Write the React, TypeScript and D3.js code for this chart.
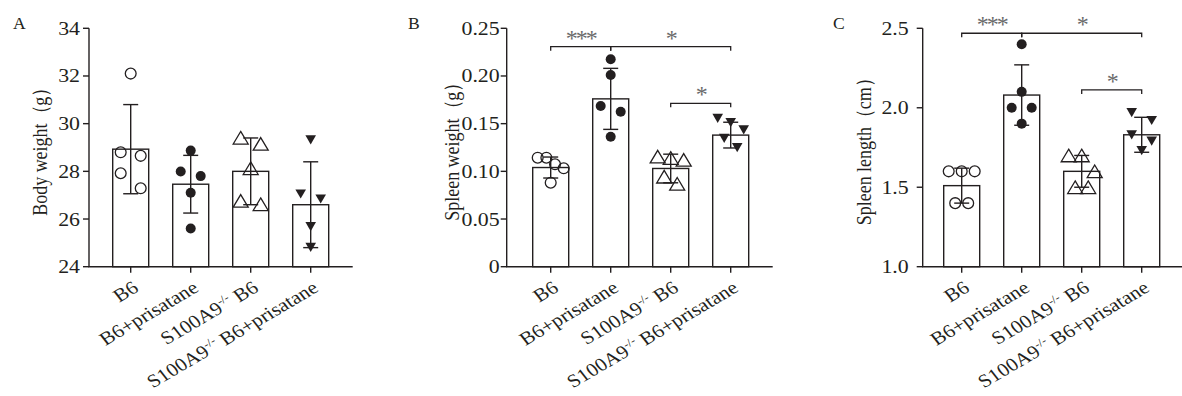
import React from 'react';
import * as d3 from 'd3';

// group labels (x axis)
const groups = ['B6', 'B6+prisatane', 'S100A9-/- B6', 'S100A9-/- B6+prisatane'];

// A: body weight (g), individual mice per group
const bodyWeight = [
  [32.1, 28.8, 28.65, 27.92, 27.29],
  [28.87, 27.99, 27.8, 27.1, 25.6],
  [29.41, 29.15, 28.13, 26.76, 26.62],
  [29.32, 27.05, 26.84, 25.68, 24.81],
];
const bodyWeightMean = [28.93, 27.46, 28.0, 26.6];
const bodyWeightSd = [1.87, 1.21, 1.4, 1.8];
const bodyWeightTicks = [24, 26, 28, 30, 32, 34];
const bodyWeightTickLabels = ['24', '26', '28', '30', '32', '34'];

// B: spleen weight (g)
const spleenWeight = [
  [0.1143, 0.1143, 0.1074, 0.1032, 0.0881],
  [0.2175, 0.201, 0.1685, 0.1625, 0.1363],
  [0.1154, 0.114, 0.112, 0.0944, 0.0869],
  [0.1556, 0.151, 0.1434, 0.1346, 0.1248],
];
const spleenWeightMean = [0.104, 0.176, 0.103, 0.138];
const spleenWeightSd = [0.011, 0.032, 0.015, 0.0135];
const spleenWeightTicks = [0, 0.05, 0.1, 0.15, 0.2, 0.25];
const spleenWeightTickLabels = ['0', '0.05', '0.10', '0.15', '0.20', '0.25'];

// C: spleen length (cm)
const spleenLength = [
  [1.6, 1.6, 1.6, 1.4, 1.4],
  [2.4, 2.1, 2.0, 2.0, 1.9],
  [1.7, 1.7, 1.6, 1.5, 1.5],
  [1.97, 1.92, 1.83, 1.79, 1.73],
];
const spleenLengthMean = [1.51, 2.08, 1.6, 1.83];
const spleenLengthSd = [0.11, 0.19, 0.1, 0.11];
const spleenLengthTicks = [1.0, 1.5, 2.0, 2.5];
const spleenLengthTickLabels = ['1.0', '1.5', '2.0', '2.5'];

// significance comparisons: [group a, group b, height in data units, label]
const spleenWeightStats: [number, number, number, string][] = [
  [0, 1, 0.2307, '***'],
  [1, 3, 0.2307, '*'],
  [2, 3, 0.1713, '*'],
];
const spleenLengthStats: [number, number, number, string][] = [
  [0, 1, 2.469, '***'],
  [1, 3, 2.469, '*'],
  [2, 3, 2.112, '*'],
];

const TOP = 28.3;
const BOTTOM = 266.7;
const FONT = '"Liberation Serif", "Times New Roman", serif';
const INK = '#231f20';

const markers = ['circleOpen', 'circleFilled', 'triangleOpen', 'triangleDown'];
const rowGap: Record<string, number> = { circleOpen: 16, circleFilled: 14, triangleOpen: 19, triangleDown: 14 };

const panels = [
  {
    letter: 'A', title: 'Body weight（g）', values: bodyWeight, means: bodyWeightMean, sds: bodyWeightSd,
    domain: [24, 34], ticks: bodyWeightTicks, tickLabels: bodyWeightTickLabels, stats: [] as [number, number, number, string][],
    axisX: 89, firstCenter: 130.7, letterX: 13, titleOffset: 49, labelGap: 9,
  },
  {
    letter: 'B', title: 'Spleen weight（g）', values: spleenWeight, means: spleenWeightMean, sds: spleenWeightSd,
    domain: [0, 0.25], ticks: spleenWeightTicks, tickLabels: spleenWeightTickLabels, stats: spleenWeightStats,
    axisX: 506.7, firstCenter: 550.7, letterX: 408, titleOffset: 55, labelGap: 7,
  },
  {
    letter: 'C', title: 'Spleen length（cm）', values: spleenLength, means: spleenLengthMean, sds: spleenLengthSd,
    domain: [1.0, 2.5], ticks: spleenLengthTicks, tickLabels: spleenLengthTickLabels, stats: spleenLengthStats,
    axisX: 922.7, firstCenter: 961.7, letterX: 833, titleOffset: 59, labelGap: 14,
  },
];

// Prism-like scatter: points close in y share a row and spread sideways
function swarm(vals: number[], y: d3.ScaleLinear<number, number>, gap: number) {
  const pts = vals.map(v => ({ v, py: y(v), dx: 0 })).sort((a, b) => a.py - b.py);
  const rows: typeof pts[] = [];
  pts.forEach(p => {
    const row = rows[rows.length - 1];
    if (row && p.py - row[0].py < gap) row.push(p);
    else rows.push([p]);
  });
  const maxRow = d3.max(rows, r => r.length) || 1;
  const step = maxRow <= 2 ? 20 : 26 / (maxRow - 1);
  rows.forEach(row => row.forEach((p, i) => { p.dx = (i - (row.length - 1) / 2) * step; }));
  return pts;
}

function Marker({ type, x, y }: { type: string; x: number; y: number }) {
  if (type === 'circleOpen') return <circle cx={x} cy={y} r={5.4} fill="none" stroke={INK} strokeWidth={1.3} />;
  if (type === 'circleFilled') return <circle cx={x} cy={y} r={5} fill={INK} />;
  if (type === 'triangleOpen')
    return <path d={`M${x},${y - 6.3}L${x + 7.5},${y + 6.3}L${x - 7.5},${y + 6.3}Z`} fill="none" stroke={INK} strokeWidth={1.3} />;
  return <path d={`M${x - 5.3},${y - 4.6}L${x + 5.3},${y - 4.6}L${x},${y + 4.6}Z`} fill={INK} />;
}

function GroupLabel({ name, x, y }: { name: string; x: number; y: number }) {
  const tf = `translate(${x},${y}) scale(1.15,1) rotate(-34)`;
  if (name.startsWith('S100A9-/-')) {
    const rest = name.slice('S100A9-/-'.length);
    return (
      <text transform={tf} textAnchor="end" fontFamily={FONT} fontSize={18.5} fill={INK}>
        S100A9<tspan fontSize={11.5} dy={-7}>-/-</tspan><tspan dy={7}>{rest}</tspan>
      </text>
    );
  }
  return <text transform={tf} textAnchor="end" fontFamily={FONT} fontSize={18.5} fill={INK}>{name}</text>;
}

function Panel({ p }: { p: typeof panels[number] }) {
  const y = d3.scaleLinear().domain(p.domain).range([BOTTOM, TOP]);
  const start = p.firstCenter - 42;
  const x = d3.scaleBand<string>().domain(groups).range([start, start + 264]).paddingInner(0.4).paddingOuter(0.4);
  const cx = (i: number) => (x(groups[i]) as number) + x.bandwidth() / 2;
  const midY = (TOP + BOTTOM) / 2;
  return (
    <g>
      <text transform={`translate(${p.letterX},28.5) scale(1.1,1)`} fontFamily={FONT} fontSize={16} fill={INK}>{p.letter}</text>
      <text transform={`translate(${p.axisX - p.titleOffset},${midY}) scale(1.15,1) rotate(-90)`} textAnchor="middle"
        dominantBaseline="central" fontFamily={FONT} fontSize={18} fill={INK}>{p.title}</text>

      {/* bars */}
      {groups.map((g, i) => (
        <rect key={g} x={x(g)} y={y(p.means[i])} width={x.bandwidth()} height={BOTTOM - y(p.means[i])}
          fill="#fff" stroke={INK} strokeWidth={1.4} />
      ))}
      {/* error bars */}
      {groups.map((g, i) => {
        const c = cx(i);
        const hi = y(p.means[i] + p.sds[i]);
        const lo = y(p.means[i] - p.sds[i]);
        return (
          <g key={g} stroke={INK} strokeWidth={1.4}>
            <line x1={c} x2={c} y1={hi} y2={lo} />
            <line x1={c - 7.5} x2={c + 7.5} y1={hi} y2={hi} />
            <line x1={c - 7.5} x2={c + 7.5} y1={lo} y2={lo} />
          </g>
        );
      })}
      {/* points */}
      {groups.map((g, i) => swarm(p.values[i], y, rowGap[markers[i]]).map((pt, j) => (
        <Marker key={g + j} type={markers[i]} x={cx(i) + pt.dx} y={pt.py} />
      )))}

      {/* axes */}
      <line x1={p.axisX} x2={p.axisX} y1={TOP} y2={BOTTOM} stroke={INK} strokeWidth={1.4} />
      <line x1={p.axisX - 0.7} x2={x.range()[1]} y1={BOTTOM} y2={BOTTOM} stroke={INK} strokeWidth={1.4} />
      {p.ticks.map((t, i) => (
        <g key={t}>
          <line x1={p.axisX - 6} x2={p.axisX} y1={y(t)} y2={y(t)} stroke={INK} strokeWidth={1.4} />
          <text transform={`translate(${p.axisX - p.labelGap},${y(t)}) scale(1.15,1)`} textAnchor="end"
            dominantBaseline="central" fontFamily={FONT} fontSize={19} fill={INK}>{p.tickLabels[i]}</text>
        </g>
      ))}
      {groups.map((g, i) => (
        <g key={g}>
          <line x1={cx(i)} x2={cx(i)} y1={BOTTOM} y2={BOTTOM + 6} stroke={INK} strokeWidth={1.4} />
          <GroupLabel name={g} x={cx(i) + 9} y={BOTTOM + 24} />
        </g>
      ))}

      {/* significance brackets */}
      {p.stats.map(([a, b, h, label], k) => {
        const yy = y(h);
        return (
          <g key={k}>
            <path d={`M${cx(a)},${yy + 4}V${yy}H${cx(b)}V${yy + 4}`} fill="none" stroke={INK} strokeWidth={1.3} />
            <text x={(cx(a) + cx(b)) / 2} y={yy - 1} textAnchor="middle" fontFamily={FONT}
              fontSize={24} letterSpacing={-2} fill="#6a6a6a">{label}</text>
          </g>
        );
      })}
    </g>
  );
}

export default function App() {
  return (
    <svg width={1182} height={396} style={{ position: 'absolute', left: 0, top: 0, background: '#fff' }}>
      <rect width={1182} height={396} fill="#fff" />
      {panels.map(p => <Panel key={p.letter} p={p} />)}
    </svg>
  );
}
